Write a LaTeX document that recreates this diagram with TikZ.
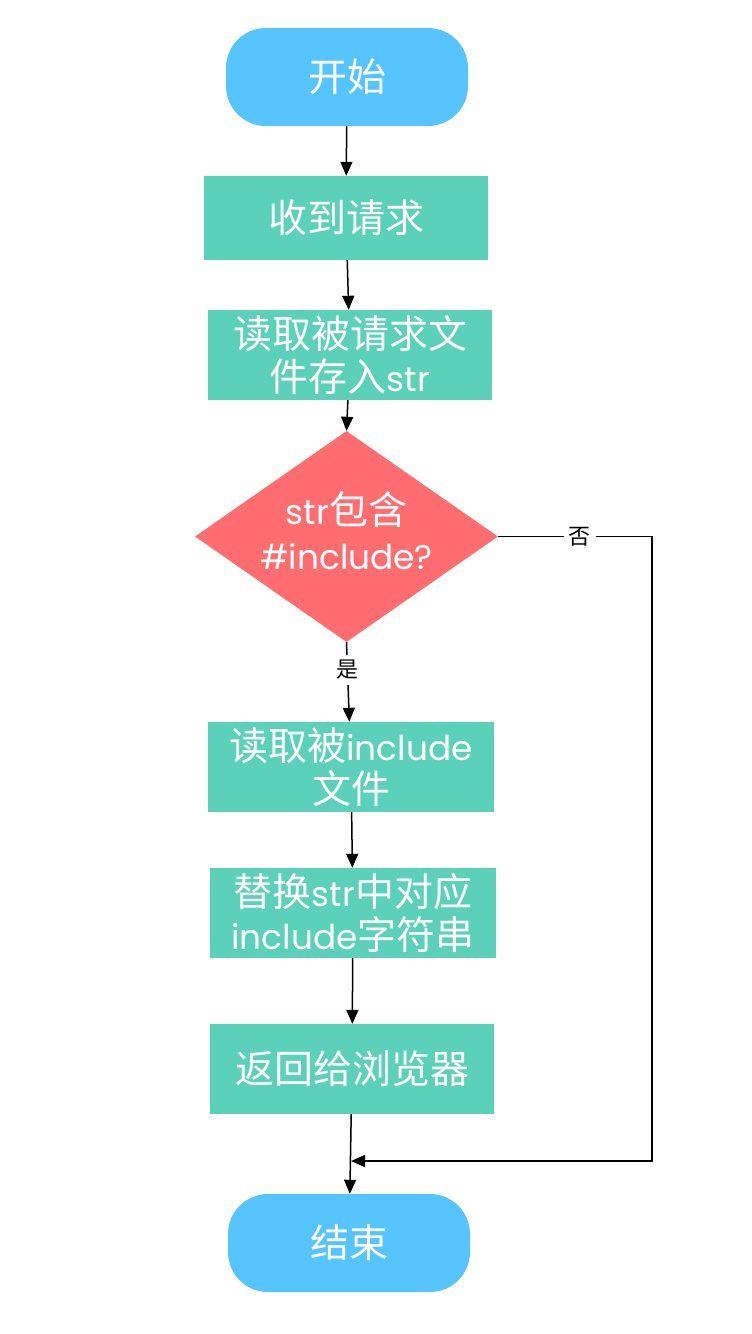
\documentclass[tikz,border=0pt]{standalone}
\usepackage{fontspec}
\setmainfont[Scale=0.88]{Poppins}
\newfontfamily\cjkfont{Noto Sans CJK SC}
\newcommand\zh[1]{{\cjkfont #1}}
\usetikzlibrary{arrows.meta,shapes.geometric}
\definecolor{termblue}{HTML}{56C5FF}
\definecolor{procgreen}{HTML}{5CD1B9}
\definecolor{decred}{HTML}{FF6D70}
\tikzset{
  term/.style={draw=none,fill=termblue,rounded corners=40pt,minimum width=242pt,minimum height=98pt,inner sep=0pt,text=white,font=\fontsize{39}{43}\selectfont},
  proc/.style={draw=none,fill=procgreen,minimum width=284pt,minimum height=88pt,inner sep=0pt,text=white,align=center,font=\fontsize{39}{43}\selectfont},
  dec/.style={draw=none,fill=decred,shape=diamond,aspect=1.436,minimum width=303pt,minimum height=211pt,inner sep=0pt},
  dectext/.style={inner sep=0pt,text=white,align=center,font=\fontsize{39}{45}\selectfont},
  conn/.style={line width=1.5pt,-{Triangle[length=14pt,width=12pt]}},
  lbl/.style={fill=white,inner sep=5pt,text=black,font=\fontsize{22}{23}\selectfont\cjkfont}
}
\begin{document}
\begin{tikzpicture}[x=1pt,y=-1pt]
\useasboundingbox (0,0) rectangle (752,1334);
\node[term] (start) at (347,77) {\zh{开始}};
\node[proc,minimum height=84pt] (b1) at (346,218) {\zh{收到请求}};
\node[proc,minimum height=90pt] (b2) at (350,355) {\zh{读取被请求文}\\\zh{件存入}str};
\node[dec] (dia) at (346.5,536.5) {};
\node[dectext] (diatext) at ([yshift=6pt]dia.center) {str\zh{包含}\\\#include?};
\node[proc,minimum width=286pt,minimum height=90pt] (b3) at (351,767) {\zh{读取被}include\\\zh{文件}};
\node[proc,minimum width=286pt,minimum height=90pt] (b4) at (353,913) {\zh{替换}str\zh{中对应}\\include\zh{字符串}};
\node[proc,minimum height=90pt] (b5) at (352,1069) {\zh{返回给浏览器}};
\node[term] (end) at (349,1243) {\zh{结束}};
\coordinate (nr) at (652,1161);
\coordinate (ne) at (351,1161);
\draw[conn] (start) -- (b1);
\draw[conn] (b1) -- (b2);
\draw[conn] (b2) -- (dia.north);
\draw[conn] (dia.south) -- node[lbl,pos=0.35]{是} (b3);
\draw[conn] (b3) -- (b4);
\draw[conn] (b4) -- (b5);
\draw[conn] (b5) -- (end);
\draw[conn] (dia.east) -- node[lbl,pos=0.53]{否} (dia.east -| nr) -- (nr) -- (ne);
\end{tikzpicture}
\end{document}
